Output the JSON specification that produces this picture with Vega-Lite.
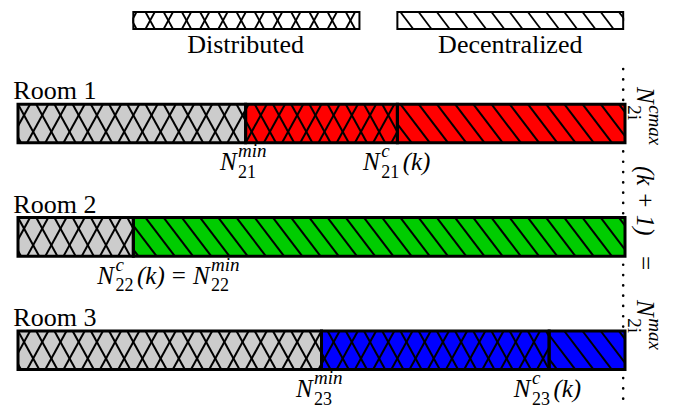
{
  "$schema": "https://vega.github.io/schema/vega-lite/v6.json",
  "width": 607,
  "height": 397,
  "autosize": "none",
  "padding": {"left": 18, "top": 10, "right": 53, "bottom": 3},
  "background": "white",
  "config": {"view": {"stroke": null}, "axis": {"disable": true}},
  "datasets": {
    "segments": [
      {"room": "Room 1", "row": 1, "from": 0, "to": 37.5, "mode": "Distributed", "part": "minimum"},
      {"room": "Room 1", "row": 1, "from": 37.5, "to": 62.5, "mode": "Distributed", "part": "Room 1"},
      {"room": "Room 1", "row": 1, "from": 62.5, "to": 100, "mode": "Decentralized", "part": "Room 1"},
      {"room": "Room 2", "row": 2, "from": 0, "to": 19, "mode": "Distributed", "part": "minimum"},
      {"room": "Room 2", "row": 2, "from": 19, "to": 100, "mode": "Decentralized", "part": "Room 2"},
      {"room": "Room 3", "row": 3, "from": 0, "to": 50, "mode": "Distributed", "part": "minimum"},
      {"room": "Room 3", "row": 3, "from": 50, "to": 87.5, "mode": "Distributed", "part": "Room 3"},
      {"room": "Room 3", "row": 3, "from": 87.5, "to": 100, "mode": "Decentralized", "part": "Room 3"}
    ],
    "rooms": [
      {"room": "Room 1", "row": 1},
      {"room": "Room 2", "row": 2},
      {"room": "Room 3", "row": 3}
    ],
    "legend": [
      {"label": "Distributed", "lo": 19, "hi": 56.25, "mid": 37.5},
      {"label": "Decentralized", "lo": 62.5, "hi": 99.7, "mid": 81.1}
    ],
    "hatch": [
      {"x": -6}, {"x": -3}, {"x": 0}, {"x": 3}, {"x": 6}, {"x": 9}, {"x": 12}, {"x": 15}, {"x": 18},
      {"x": 21}, {"x": 24}, {"x": 27}, {"x": 30}, {"x": 33}, {"x": 36}, {"x": 39}, {"x": 42}, {"x": 45},
      {"x": 48}, {"x": 51}, {"x": 54}, {"x": 57}, {"x": 60}, {"x": 63}, {"x": 66}, {"x": 69}, {"x": 72},
      {"x": 75}, {"x": 78}, {"x": 81}, {"x": 84}, {"x": 87}, {"x": 90}, {"x": 93}, {"x": 96}, {"x": 99}
    ],
    "cuts": [
      {"row": 1, "x": 60, "x2": 62.5, "y": 0.83, "y2": 1.0733},
      {"row": 1, "x": 61.5, "x2": 62.5, "y": 1.17, "y2": 1.0727},
      {"row": 2, "x": 18, "x2": 19, "y": 1.83, "y2": 1.9273},
      {"row": 2, "x": 16.5, "x2": 19, "y": 2.17, "y2": 1.9267},
      {"row": 3, "x": 87, "x2": 87.5, "y": 2.83, "y2": 2.8787},
      {"row": 3, "x": 85.5, "x2": 87.5, "y": 3.17, "y2": 2.9754}
    ],
    "math": [
      {"t": "N", "kind": "main", "x": 33.26, "row": 1},
      {"t": "min", "kind": "sup", "x": 36.26, "row": 1},
      {"t": "21", "kind": "sub", "x": 36.26, "row": 1},
      {"t": "N", "kind": "main", "x": 56.83, "row": 1},
      {"t": "c", "kind": "sup", "x": 59.83, "row": 1},
      {"t": "21", "kind": "sub", "x": 59.83, "row": 1},
      {"t": "(k)", "kind": "main", "x": 63.37, "row": 1},
      {"t": "N", "kind": "main", "x": 13.06, "row": 2},
      {"t": "c", "kind": "sup", "x": 16.06, "row": 2},
      {"t": "22", "kind": "sub", "x": 16.06, "row": 2},
      {"t": "(k)", "kind": "main", "x": 19.6, "row": 2},
      {"t": "=", "kind": "op", "x": 25.34, "row": 2},
      {"t": "N", "kind": "main", "x": 28.81, "row": 2},
      {"t": "min", "kind": "sup", "x": 31.81, "row": 2},
      {"t": "22", "kind": "sub", "x": 31.81, "row": 2},
      {"t": "N", "kind": "main", "x": 45.78, "row": 3},
      {"t": "min", "kind": "sup", "x": 48.78, "row": 3},
      {"t": "23", "kind": "sub", "x": 48.78, "row": 3},
      {"t": "N", "kind": "main", "x": 81.67, "row": 3},
      {"t": "c", "kind": "sup", "x": 84.67, "row": 3},
      {"t": "23", "kind": "sub", "x": 84.67, "row": 3},
      {"t": "(k)", "kind": "main", "x": 88.21, "row": 3}
    ],
    "mathV": [
      {"t": "N", "kind": "main", "y": 0.679},
      {"t": "cmax", "kind": "sup", "y": 0.839},
      {"t": "2i", "kind": "sub", "y": 0.839},
      {"t": "(k + 1)", "kind": "main", "y": 1.375},
      {"t": "=", "kind": "op", "y": 2.169},
      {"t": "N", "kind": "main", "y": 2.557},
      {"t": "max", "kind": "sup", "y": 2.717},
      {"t": "2i", "kind": "sub", "y": 2.717}
    ]
  },
  "layer": [
    {
      "data": {"values": [{"cap": 99.7}]},
      "mark": {"type": "rule", "color": "black", "strokeWidth": 2.6, "strokeCap": "round", "strokeDash": [0.1, 10.2]},
      "encoding": {
        "x": {"field": "cap", "type": "quantitative", "scale": {"domain": [0, 100], "nice": false, "zero": false}},
        "y": {"datum": 0.52, "type": "quantitative", "scale": {"domain": [0, 3.5], "nice": false, "zero": false, "reverse": true}},
        "y2": {"datum": 3.5}
      }
    },
    {
      "data": {"name": "segments"},
      "transform": [{"filter": "datum.mode === 'Decentralized'"}],
      "mark": {"type": "rect", "strokeWidth": 0, "yOffset": -19.28, "y2Offset": 19.28},
      "encoding": {
        "x": {"field": "from", "type": "quantitative"},
        "x2": {"field": "to"},
        "y": {"field": "row", "type": "quantitative"},
        "y2": {"field": "row"},
        "color": {"field": "part", "type": "nominal", "legend": null,
          "scale": {"domain": ["minimum", "Room 1", "Room 2", "Room 3"], "range": ["#cccccc", "#ff0000", "#00cc00", "#0000ff"]}}
      }
    },
    {
      "data": {"name": "hatch"},
      "transform": [{"filter": {"field": "x", "range": [57.6, 100]}}],
      "mark": {"type": "rule", "clip": true, "color": "black", "strokeWidth": 2, "x2Offset": 29.3, "yOffset": -19.28, "y2Offset": 19.28},
      "encoding": {"x": {"field": "x", "type": "quantitative"}, "x2": {"field": "x"}, "y": {"datum": 1, "type": "quantitative"}, "y2": {"datum": 1}}
    },
    {
      "data": {"name": "hatch"},
      "transform": [{"filter": {"field": "x", "range": [14.1, 100]}}],
      "mark": {"type": "rule", "clip": true, "color": "black", "strokeWidth": 2, "x2Offset": 29.3, "yOffset": -19.28, "y2Offset": 19.28},
      "encoding": {"x": {"field": "x", "type": "quantitative"}, "x2": {"field": "x"}, "y": {"datum": 2, "type": "quantitative"}, "y2": {"datum": 2}}
    },
    {
      "data": {"name": "hatch"},
      "transform": [{"filter": {"field": "x", "range": [82.6, 100]}}],
      "mark": {"type": "rule", "clip": true, "color": "black", "strokeWidth": 2, "x2Offset": 29.3, "yOffset": -19.28, "y2Offset": 19.28},
      "encoding": {"x": {"field": "x", "type": "quantitative"}, "x2": {"field": "x"}, "y": {"datum": 3, "type": "quantitative"}, "y2": {"datum": 3}}
    },
    {
      "data": {"name": "segments"},
      "transform": [{"filter": "datum.mode === 'Distributed'"}],
      "mark": {"type": "rect", "strokeWidth": 0, "yOffset": -19.28, "y2Offset": 19.28},
      "encoding": {
        "x": {"field": "from", "type": "quantitative"},
        "x2": {"field": "to"},
        "y": {"field": "row", "type": "quantitative"},
        "y2": {"field": "row"},
        "color": {"field": "part", "type": "nominal", "legend": null}
      }
    },
    {
      "data": {"name": "hatch"},
      "transform": [{"filter": {"field": "x", "range": [-3.5, 59.0]}}],
      "mark": {"type": "rule", "clip": true, "color": "black", "strokeWidth": 2, "x2Offset": 21.21, "yOffset": -19.28, "y2Offset": 19.28},
      "encoding": {"x": {"field": "x", "type": "quantitative"}, "x2": {"field": "x"}, "y": {"datum": 1, "type": "quantitative"}, "y2": {"datum": 1}}
    },
    {
      "data": {"name": "hatch"},
      "transform": [{"filter": {"field": "x", "range": [-5, 57.5]}}],
      "mark": {"type": "rule", "clip": true, "color": "black", "strokeWidth": 2, "xOffset": 9.1, "x2Offset": 30.31, "yOffset": 19.28, "y2Offset": -19.28},
      "encoding": {"x": {"field": "x", "type": "quantitative"}, "x2": {"field": "x"}, "y": {"datum": 1, "type": "quantitative"}, "y2": {"datum": 1}}
    },
    {
      "data": {"name": "hatch"},
      "transform": [{"filter": {"field": "x", "range": [-3.5, 15.5]}}],
      "mark": {"type": "rule", "clip": true, "color": "black", "strokeWidth": 2, "x2Offset": 21.21, "yOffset": -19.28, "y2Offset": 19.28},
      "encoding": {"x": {"field": "x", "type": "quantitative"}, "x2": {"field": "x"}, "y": {"datum": 2, "type": "quantitative"}, "y2": {"datum": 2}}
    },
    {
      "data": {"name": "hatch"},
      "transform": [{"filter": {"field": "x", "range": [-5, 14.0]}}],
      "mark": {"type": "rule", "clip": true, "color": "black", "strokeWidth": 2, "xOffset": 9.1, "x2Offset": 30.31, "yOffset": 19.28, "y2Offset": -19.28},
      "encoding": {"x": {"field": "x", "type": "quantitative"}, "x2": {"field": "x"}, "y": {"datum": 2, "type": "quantitative"}, "y2": {"datum": 2}}
    },
    {
      "data": {"name": "hatch"},
      "transform": [{"filter": {"field": "x", "range": [-3.5, 84.0]}}],
      "mark": {"type": "rule", "clip": true, "color": "black", "strokeWidth": 2, "x2Offset": 21.21, "yOffset": -19.28, "y2Offset": 19.28},
      "encoding": {"x": {"field": "x", "type": "quantitative"}, "x2": {"field": "x"}, "y": {"datum": 3, "type": "quantitative"}, "y2": {"datum": 3}}
    },
    {
      "data": {"name": "hatch"},
      "transform": [{"filter": {"field": "x", "range": [-5, 82.5]}}],
      "mark": {"type": "rule", "clip": true, "color": "black", "strokeWidth": 2, "xOffset": 9.1, "x2Offset": 30.31, "yOffset": 19.28, "y2Offset": -19.28},
      "encoding": {"x": {"field": "x", "type": "quantitative"}, "x2": {"field": "x"}, "y": {"datum": 3, "type": "quantitative"}, "y2": {"datum": 3}}
    },
    {
      "data": {"name": "cuts"},
      "mark": {"type": "rule", "clip": true, "color": "black", "strokeWidth": 2},
      "encoding": {"x": {"field": "x", "type": "quantitative"}, "x2": {"field": "x2"}, "y": {"field": "y", "type": "quantitative"}, "y2": {"field": "y2"}}
    },
    {
      "data": {"name": "segments"},
      "mark": {"type": "rect", "filled": false, "stroke": "black", "strokeWidth": 3, "yOffset": -19.28, "y2Offset": 19.28},
      "encoding": {
        "x": {"field": "from", "type": "quantitative"},
        "x2": {"field": "to"},
        "y": {"field": "row", "type": "quantitative"},
        "y2": {"field": "row"}
      }
    },
    {
      "data": {"name": "hatch"},
      "transform": [{"filter": {"field": "x", "range": [17.4, 56.2]}}],
      "mark": {"type": "rule", "clip": true, "color": "black", "strokeWidth": 1.8, "x2Offset": 9.3, "yOffset": -8.45, "y2Offset": 8.45},
      "encoding": {"x": {"field": "x", "type": "quantitative"}, "x2": {"field": "x"}, "y": {"datum": 0.0925, "type": "quantitative"}, "y2": {"datum": 0.0925}}
    },
    {
      "data": {"name": "hatch"},
      "transform": [{"filter": {"field": "x", "range": [17.4, 56.2]}}],
      "mark": {"type": "rule", "clip": true, "color": "black", "strokeWidth": 1.8, "x2Offset": 9.3, "yOffset": 8.45, "y2Offset": -8.45},
      "encoding": {"x": {"field": "x", "type": "quantitative"}, "x2": {"field": "x"}, "y": {"datum": 0.0925, "type": "quantitative"}, "y2": {"datum": 0.0925}}
    },
    {
      "data": {"name": "hatch"},
      "transform": [{"filter": {"field": "x", "range": [60.4, 99.7]}}],
      "mark": {"type": "rule", "clip": true, "color": "black", "strokeWidth": 1.8, "x2Offset": 12.84, "yOffset": -8.45, "y2Offset": 8.45},
      "encoding": {"x": {"field": "x", "type": "quantitative"}, "x2": {"field": "x"}, "y": {"datum": 0.0925, "type": "quantitative"}, "y2": {"datum": 0.0925}}
    },
    {
      "data": {"name": "legend"},
      "mark": {"type": "rect", "color": "white", "xOffset": -14, "x2Offset": -1, "yOffset": -11, "y2Offset": 11},
      "encoding": {"x": {"field": "lo", "type": "quantitative"}, "x2": {"field": "lo"}, "y": {"datum": 0.0925, "type": "quantitative"}, "y2": {"datum": 0.0925}}
    },
    {
      "data": {"name": "legend"},
      "mark": {"type": "rect", "color": "white", "xOffset": 1, "x2Offset": 14, "yOffset": -11, "y2Offset": 11},
      "encoding": {"x": {"field": "hi", "type": "quantitative"}, "x2": {"field": "hi"}, "y": {"datum": 0.0925, "type": "quantitative"}, "y2": {"datum": 0.0925}}
    },
    {
      "data": {"name": "legend"},
      "mark": {"type": "rect", "filled": false, "stroke": "black", "strokeWidth": 2, "yOffset": -8.45, "y2Offset": 8.45},
      "encoding": {"x": {"field": "lo", "type": "quantitative"}, "x2": {"field": "hi"}, "y": {"datum": 0.0925, "type": "quantitative"}, "y2": {"datum": 0.0925}}
    },
    {
      "data": {"name": "legend"},
      "mark": {"type": "text", "font": "Liberation Serif", "fontSize": 26, "align": "center", "baseline": "alphabetic", "dy": 32.8, "color": "black"},
      "encoding": {"x": {"field": "mid", "type": "quantitative"}, "y": {"datum": 0.0925, "type": "quantitative"}, "text": {"field": "label"}}
    },
    {
      "data": {"name": "rooms"},
      "mark": {"type": "text", "font": "Liberation Serif", "fontSize": 26, "align": "left", "baseline": "alphabetic", "dy": -24, "color": "black"},
      "encoding": {"x": {"datum": -0.77, "type": "quantitative"}, "y": {"field": "row", "type": "quantitative"}, "text": {"field": "room"}}
    },
    {
      "data": {"name": "math"},
      "transform": [{"filter": "datum.kind === 'main'"}],
      "mark": {"type": "text", "font": "Liberation Serif", "fontStyle": "italic", "fontSize": 25, "align": "left", "baseline": "alphabetic", "dy": 47, "color": "black"},
      "encoding": {"x": {"field": "x", "type": "quantitative"}, "y": {"field": "row", "type": "quantitative"}, "text": {"field": "t"}}
    },
    {
      "data": {"name": "math"},
      "transform": [{"filter": "datum.kind === 'op'"}],
      "mark": {"type": "text", "font": "Liberation Serif", "fontSize": 25, "align": "left", "baseline": "alphabetic", "dy": 47, "color": "black"},
      "encoding": {"x": {"field": "x", "type": "quantitative"}, "y": {"field": "row", "type": "quantitative"}, "text": {"field": "t"}}
    },
    {
      "data": {"name": "math"},
      "transform": [{"filter": "datum.kind === 'sup'"}],
      "mark": {"type": "text", "font": "Liberation Serif", "fontStyle": "italic", "fontSize": 19, "align": "left", "baseline": "alphabetic", "dy": 34, "color": "black"},
      "encoding": {"x": {"field": "x", "type": "quantitative"}, "y": {"field": "row", "type": "quantitative"}, "text": {"field": "t"}}
    },
    {
      "data": {"name": "math"},
      "transform": [{"filter": "datum.kind === 'sub'"}],
      "mark": {"type": "text", "font": "Liberation Serif", "fontSize": 18, "align": "left", "baseline": "alphabetic", "dy": 54.5, "color": "black"},
      "encoding": {"x": {"field": "x", "type": "quantitative"}, "y": {"field": "row", "type": "quantitative"}, "text": {"field": "t"}}
    },
    {
      "data": {"name": "mathV"},
      "transform": [{"filter": "datum.kind === 'main'"}],
      "mark": {"type": "text", "font": "Liberation Serif", "fontStyle": "italic", "fontSize": 25, "align": "left", "baseline": "alphabetic", "angle": 90, "color": "black"},
      "encoding": {"x": {"datum": 102, "type": "quantitative"}, "y": {"field": "y", "type": "quantitative"}, "text": {"field": "t"}}
    },
    {
      "data": {"name": "mathV"},
      "transform": [{"filter": "datum.kind === 'op'"}],
      "mark": {"type": "text", "font": "Liberation Serif", "fontSize": 25, "align": "left", "baseline": "alphabetic", "angle": 90, "color": "black"},
      "encoding": {"x": {"datum": 102, "type": "quantitative"}, "y": {"field": "y", "type": "quantitative"}, "text": {"field": "t"}}
    },
    {
      "data": {"name": "mathV"},
      "transform": [{"filter": "datum.kind === 'sup'"}],
      "mark": {"type": "text", "font": "Liberation Serif", "fontStyle": "italic", "fontSize": 19, "align": "left", "baseline": "alphabetic", "angle": 90, "dy": -12, "color": "black"},
      "encoding": {"x": {"datum": 102, "type": "quantitative"}, "y": {"field": "y", "type": "quantitative"}, "text": {"field": "t"}}
    },
    {
      "data": {"name": "mathV"},
      "transform": [{"filter": "datum.kind === 'sub'"}],
      "mark": {"type": "text", "font": "Liberation Serif", "fontSize": 19, "align": "left", "baseline": "alphabetic", "angle": 90, "dy": 9, "color": "black"},
      "encoding": {"x": {"datum": 102, "type": "quantitative"}, "y": {"field": "y", "type": "quantitative"}, "text": {"field": "t"}}
    }
  ]
}
